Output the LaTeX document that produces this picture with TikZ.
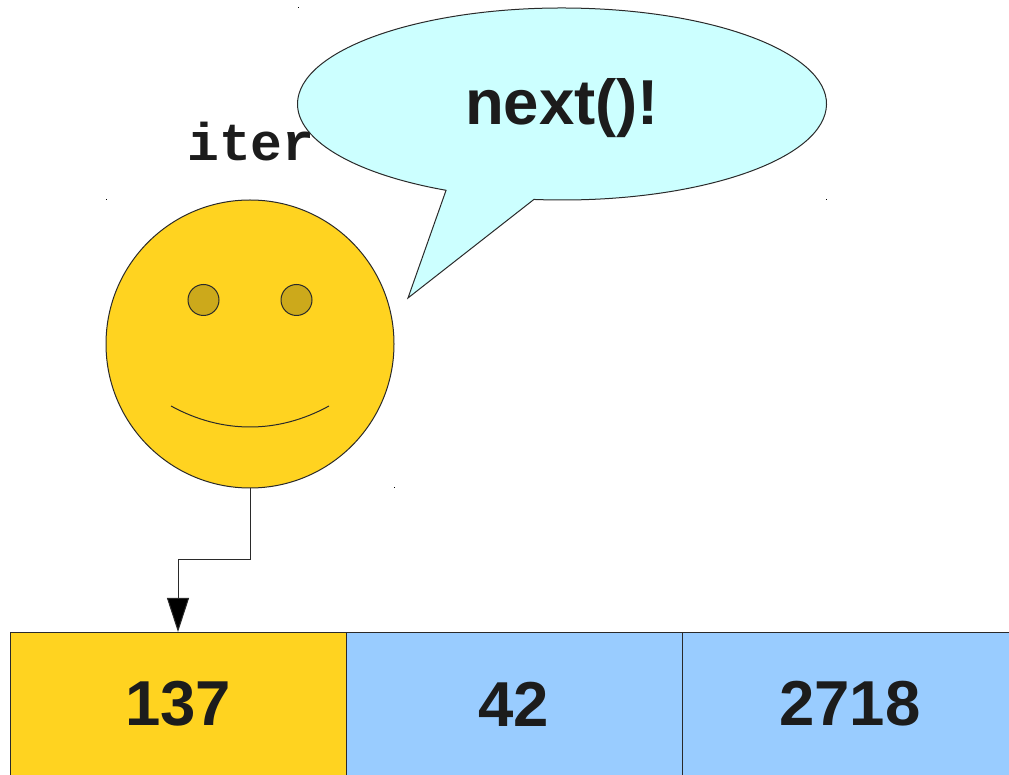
\documentclass[tikz,border=0pt]{standalone}
\usepackage{fontspec}
\setmainfont{Liberation Sans}
\setmonofont{Liberation Mono}
\usetikzlibrary{arrows.meta}
\definecolor{sunny}{HTML}{FFD320}
\definecolor{cellblue}{HTML}{99CCFF}
\definecolor{bubble}{HTML}{CCFFFF}
\definecolor{eyegold}{HTML}{CCA91B}
\definecolor{ink}{HTML}{1C1C1C}
\definecolor{wire}{HTML}{2A2A2A}
\tikzset{
  outline/.style={draw=wire,line width=1pt},
  cell/.style={outline,minimum width=336pt,minimum height=144pt,inner sep=0pt,outer sep=0pt,
    text=ink,font=\fontsize{63.5}{64}\selectfont\bfseries},
  facecircle/.style={outline,circle,fill=sunny,minimum size=288pt,inner sep=0pt,outer sep=0pt},
  eye/.style={outline,circle,fill=eyegold,minimum size=31pt,inner sep=0pt,outer sep=0pt},
  speck/.style={fill=black,inner sep=0pt,outer sep=0pt,minimum size=1pt},
}
\begin{document}
\begin{tikzpicture}[x=1pt,y=1pt]
\useasboundingbox (0,0) rectangle (1009,774);
% text beneath the bubble
\node[font=\fontsize{53}{53}\selectfont\ttfamily\bfseries,text=ink,inner sep=0pt] (iter) at (251,632) {iter};
% speech bubble
\coordinate (bc) at (562,670);
\coordinate (tip) at (408,476);
\path[outline,fill=bubble] (bc)+(263.9:264.5 and 96)
  arc[start angle=263.9,end angle=604,x radius=264.5,y radius=96] -- (tip) -- cycle;
\node[font=\fontsize{63.5}{64}\selectfont\bfseries,text=ink,inner sep=0pt] (say) at (562,666) {next()!};
% face
\node[facecircle] (face) at (250,430) {};
\node[eye] (eyeL) at (203.5,474) {};
\node[eye] (eyeR) at (296.5,474) {};
\coordinate (smileL) at (171,368);
\coordinate (smileR) at (329,368);
\draw[wire,line width=1pt] (smileL) .. controls (222,340) and (278,340) .. (smileR);
% array cells
\node[cell,fill=sunny] (c1) at (178,70) {137};
\node[cell,fill=cellblue] (c2) at (514,70) {42};
\node[cell,fill=cellblue] (c3) at (850,70) {2718};
% pointer
\coordinate (bend) at (178,214);
\draw[wire,line width=1pt,-{Triangle[length=34pt,width=22pt,fill=black]}] (face.south) |- (bend) -- (c1.north);
% selection specks
\node[speck] (s1) at (298,766) {};
\node[speck] (s2) at (106,574) {};
\node[speck] (s3) at (826,574) {};
\node[speck] (s4) at (394,286) {};
\end{tikzpicture}
\end{document}
